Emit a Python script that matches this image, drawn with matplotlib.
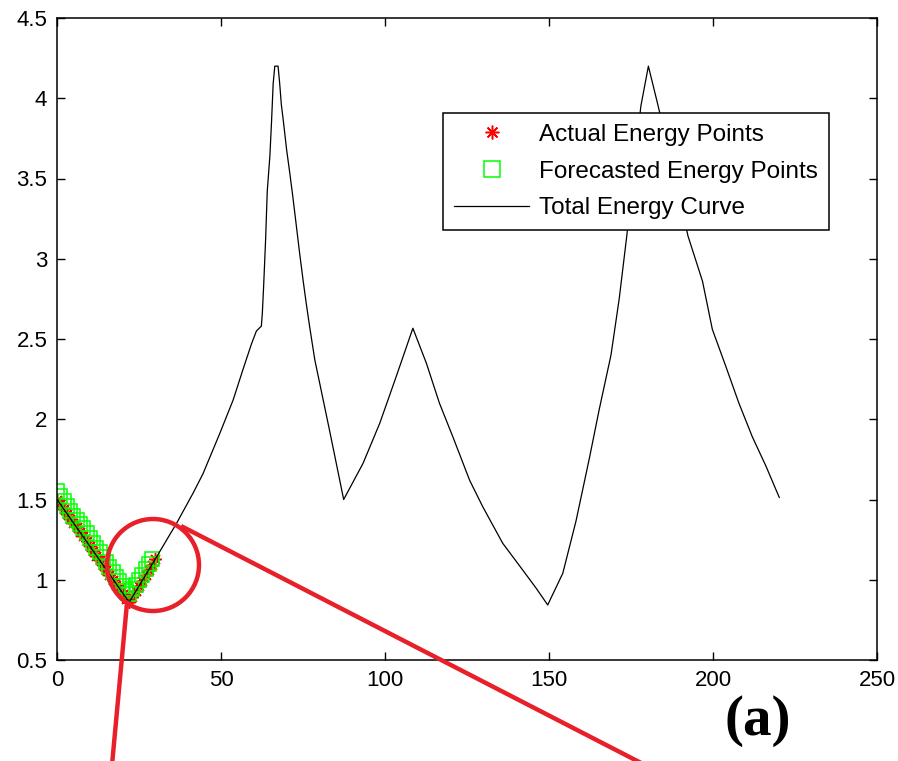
import matplotlib
matplotlib.use('Agg')
import matplotlib.pyplot as plt
import numpy as np
from matplotlib.lines import Line2D
from matplotlib.patches import Ellipse

# total energy curve vertices
curve_x = [0, 22, 30, 36.4, 41.5, 44.5, 49.6, 53.7, 56.7, 59.3, 60.8, 62.3, 62.6, 63.0,
           63.6, 64.1, 64.9, 65.4, 65.9, 66.4, 67.4, 67.9, 68.4, 69.0, 70.0, 71.0, 72.0,
           73.0, 74.0, 75.0, 76.0, 77.0, 78.6, 83.1, 87.4, 93.3, 98.4, 103.4, 108.5,
           112.6, 116.6, 120.7, 125.8, 129.8, 135.9, 142.0, 146.1, 149.6, 154.2, 158.2,
           162.3, 165.3, 168.9, 171.4, 173.7, 178.0, 180.3, 183.3, 192.4, 196.8, 199.8,
           203.9, 207.9, 212.0, 216.1, 220.2]
curve_y = [1.50, 0.86, 1.13, 1.35, 1.54, 1.66, 1.91, 2.12, 2.31, 2.47, 2.55, 2.58, 2.66, 2.83,
           3.12, 3.42, 3.64, 3.85, 4.09, 4.20, 4.20, 4.09, 3.96, 3.86, 3.68, 3.53, 3.37,
           3.20, 3.03, 2.87, 2.72, 2.58, 2.37, 1.93, 1.50, 1.725, 1.975, 2.265, 2.567,
           2.35, 2.10, 1.89, 1.62, 1.455, 1.227, 1.06, 0.947, 0.843, 1.04, 1.363,
           1.756, 2.06, 2.40, 2.75, 3.14, 3.95, 4.20, 3.95, 3.14, 2.86, 2.56,
           2.33, 2.10, 1.89, 1.71, 1.513]

# actual energy samples
actual_x = list(range(31))
actual_y = [1.50, 1.47, 1.44, 1.41, 1.38, 1.355, 1.33, 1.30, 1.27, 1.24, 1.21, 1.18,
            1.15, 1.12, 1.09, 1.06, 1.03, 1.00, 0.97, 0.94, 0.91, 0.88, 0.86, 0.89,
            0.93, 0.96, 0.99, 1.03, 1.06, 1.09, 1.13]

# forecasted energy samples
fc_x = list(range(30))
fc_y = [1.55, 1.52, 1.49, 1.46, 1.43, 1.40, 1.37, 1.35, 1.32, 1.29, 1.26, 1.23,
        1.20, 1.17, 1.14, 1.11, 1.08, 1.05, 1.02, 0.99, 0.96, 0.93, 0.91, 0.94,
        0.97, 1.00, 1.03, 1.07, 1.10, 1.13]

W, H = 898, 761
fig = plt.figure(figsize=(W / 100, H / 100), dpi=100)
ax = fig.add_axes([57 / W, 1 - 660 / H, (877 - 57) / W, (660 - 18) / H])

ax.plot(actual_x, actual_y, ls='none', marker=(8, 2, 0), ms=9, color='red', mew=1.1,
        label='Actual Energy Points')
ax.plot(fc_x, fc_y, ls='none', marker='s', ms=10, mfc='none', mec='#00ff00', mew=1.1,
        label='Forecasted Energy Points')
ax.plot(curve_x, curve_y, color='black', lw=0.9, label='Total Energy Curve')

ax.set_xlim(0, 250)
ax.set_ylim(0.5, 4.5)
ax.set_xticks([0, 50, 100, 150, 200, 250])
ax.set_yticks([0.5, 1, 1.5, 2, 2.5, 3, 3.5, 4, 4.5])
ax.set_yticklabels(['0.5', '1', '1.5', '2', '2.5', '3', '3.5', '4', '4.5'])
ax.tick_params(direction='in', length=6, width=1, top=True, right=True,
               labelsize=16, pad=7)
for lab in ax.get_xticklabels() + ax.get_yticklabels():
    lab.set_family('Liberation Sans')
for s in ax.spines.values():
    s.set_linewidth(1.1)

leg = ax.legend(loc='upper left', bbox_to_anchor=((443 - 57) / 820, (660 - 113) / 642),
                prop={'family': 'Liberation Sans', 'size': 17.5}, fancybox=False,
                edgecolor='black', framealpha=1, handlelength=3.1, handletextpad=0.4,
                labelspacing=0.6, borderpad=0.45, borderaxespad=0, markerscale=1.1)
leg.get_frame().set_linewidth(1.1)

# red zoom callout drawn over the figure
def fx(x, y):
    return x / W, 1 - y / H

red = '#e8202a'
c = fx(153, 565)
fig.add_artist(Ellipse(c, 92 / W, 92 / H, transform=fig.transFigure, fill=False,
                       ec=red, lw=3.2))
p0, p1 = fx(127, 603), fx(112, 765)
fig.add_artist(Line2D([p0[0], p1[0]], [p0[1], p1[1]], transform=fig.transFigure,
                      color=red, lw=3.2))
p0, p1 = fx(183, 527), fx(645, 765)
fig.add_artist(Line2D([p0[0], p1[0]], [p0[1], p1[1]], transform=fig.transFigure,
                      color=red, lw=3.2))

fig.text(758 / W, 1 - 735 / H, '(a)', family='Liberation Serif', weight='bold',
         fontsize=41, ha='center', va='baseline')

fig.savefig('out.png', dpi=100)
